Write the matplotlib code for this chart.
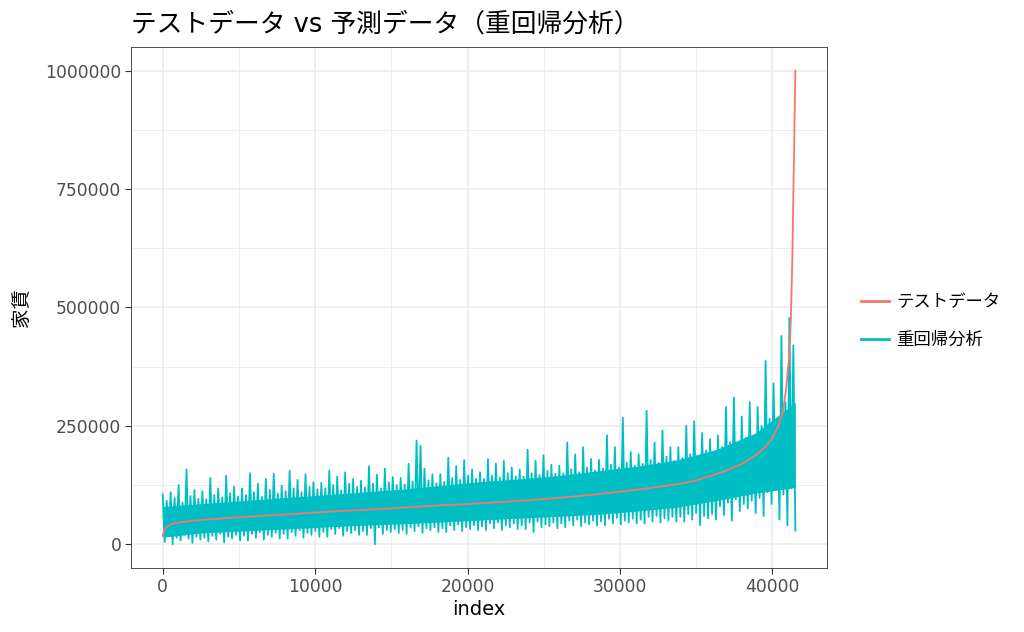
import matplotlib
matplotlib.use('Agg')
import matplotlib.pyplot as plt
import numpy as np

plt.rcParams['font.family'] = ['DejaVu Sans', 'Noto Sans CJK JP']

# test data (sorted rent), read at anchor indices (thousands)
test_idx = [0, 100, 300, 600, 1000, 2000, 4000, 6000, 8000, 10000, 12000, 14000,
            16000, 18000, 20000, 22000, 24000, 26000, 28000, 30000, 32000, 34000,
            35000, 36000, 37000, 38000, 39000, 39500, 40000, 40400, 40700, 40900,
            41100, 41200, 41300, 41400, 41500]
test_val = [18, 30, 38, 43, 46, 50, 55, 59, 63, 67, 71, 74, 78, 82, 85, 89, 93, 98,
            104, 111, 119, 128, 135, 145, 156, 170, 190, 205, 225, 250, 282, 330,
            400, 470, 600, 800, 1000]

# regression prediction: dense core of the band (thousands)
core_idx = [0, 2600, 5200, 7800, 10400, 13000, 15600, 18200, 20700, 23300,
            25900, 28500, 31100, 33700, 36300, 38900, 41500]
core_hi = [80, 86, 92, 98, 104, 110, 116, 124, 132, 138, 145, 155, 165, 178, 200, 235, 300]
core_lo = [15, 24, 28, 32, 36, 40, 43, 47, 51, 55, 59, 63, 70, 78, 92, 108, 120]

# regression prediction: alternating peaks / troughs read along the band (thousands)
pred_hi = [105, 92, 110, 98, 125, 88, 158, 102, 115, 96,
           112, 95, 140, 104, 118, 99, 145, 108, 122, 101,
           118, 104, 150, 110, 128, 100, 138, 115, 149, 107,
           124, 112, 155, 118, 136, 110, 148, 121, 131, 116,
           130, 118, 156, 125, 143, 114, 152, 128, 138, 121,
           134, 120, 165, 128, 147, 118, 160, 131, 142, 125,
           140, 126, 170, 133, 219, 208, 160, 135, 148, 129,
           148, 132, 183, 140, 165, 136, 178, 145, 158, 138,
           152, 138, 180, 145, 170, 141, 176, 150, 162, 143,
           158, 143, 200, 150, 176, 146, 188, 155, 168, 149,
           166, 150, 215, 158, 190, 152, 205, 162, 180, 156,
           178, 160, 230, 168, 205, 162, 267, 172, 195, 166,
           190, 170, 282, 178, 215, 172, 240, 185, 205, 176,
           205, 182, 250, 190, 260, 186, 235, 198, 222, 190,
           230, 205, 290, 215, 310, 210, 270, 225, 300, 218,
           290, 250, 387, 265, 340, 260, 440, 300, 478, 420]
pred_lo = [5, 18, 0, 14, 8, 20, 12, 3, 16, 10,
           14, 6, 18, 10, 22, 4, 16, 12, 20, 8,
           18, 8, 22, 14, 26, 10, 20, 16, 24, 12,
           22, 12, 26, 18, 30, 14, 24, 20, 28, 16,
           26, 16, 32, 22, 34, 18, 28, 24, 30, 20,
           28, 20, 34, 0, 36, 22, 30, 26, 32, 24,
           30, 22, 36, 28, 38, 24, 34, 30, 36, 26,
           34, 26, 40, 30, 42, 28, 36, 32, 40, 30,
           38, 30, 44, 34, 46, 30, 40, 36, 44, 32,
           40, 32, 46, 26, 48, 36, 42, 38, 46, 34,
           44, 36, 50, 40, 52, 38, 46, 42, 50, 40,
           48, 40, 54, 44, 56, 42, 50, 46, 54, 44,
           52, 44, 58, 48, 60, 46, 55, 50, 58, 48,
           58, 48, 64, 52, 66, 40, 60, 55, 64, 52,
           80, 62, 88, 50, 95, 70, 85, 76, 92, 66,
           98, 60, 110, 85, 115, 52, 105, 40, 118, 29]
n_total = 41500

pred = np.empty(len(pred_hi) * 2)
pred[0::2] = pred_hi
pred[1::2] = pred_lo
pred = pred * 1000
pred_idx = np.linspace(0, n_total, len(pred))

fig = plt.figure(figsize=(10.24, 6.32), dpi=100)
ax = fig.add_axes([0.128, 0.1013, 0.6796, 0.8243])

cyan = '#00BFC4'
ax.fill_between(core_idx, np.array(core_lo) * 1000, np.array(core_hi) * 1000,
                color=cyan, lw=0, zorder=2)
ax.plot(pred_idx, pred, color=cyan, lw=1.3, label='重回帰分析', zorder=2)
ax.plot(test_idx, np.array(test_val) * 1000, color='#F8766D', lw=1.3,
        label='テストデータ', zorder=3)

ax.set_xlim(-2075, n_total + 2075)
ax.set_ylim(-50000, 1050000)
ax.set_xticks([0, 10000, 20000, 30000, 40000])
ax.set_yticks([0, 250000, 500000, 750000, 1000000])
ax.set_xticks([5000, 15000, 25000, 35000], minor=True)
ax.set_yticks([125000, 375000, 625000, 875000], minor=True)
ax.ticklabel_format(style='plain', axis='both', useOffset=False)
ax.grid(True, which='major', color='#EBEBEB', lw=1.1, zorder=0)
ax.grid(True, which='minor', color='#EBEBEB', lw=0.6, zorder=0)
ax.set_axisbelow(True)
ax.tick_params(which='major', length=4, color='#333333', labelsize=12.3,
               labelcolor='#4D4D4D', width=0.8, pad=3)
ax.tick_params(which='minor', length=0)
for s in ax.spines.values():
    s.set_color('#333333')
    s.set_linewidth(0.6)

ax.set_xlabel('index', fontsize=14, labelpad=3)
ax.set_ylabel('家賃', fontsize=14, labelpad=10)
ax.set_title('テストデータ vs 予測データ（重回帰分析）', fontsize=18.5, loc='left', pad=11)

h, l = ax.get_legend_handles_labels()
leg = fig.legend(h[::-1], l[::-1], loc='center left', bbox_to_anchor=(0.8255, 0.492),
                 frameon=False, fontsize=12.5, handlelength=1.6, labelspacing=1.1,
                 handletextpad=0.45)
for line in leg.get_lines():
    line.set_linewidth(2)

fig.savefig('out.png', dpi=100)
